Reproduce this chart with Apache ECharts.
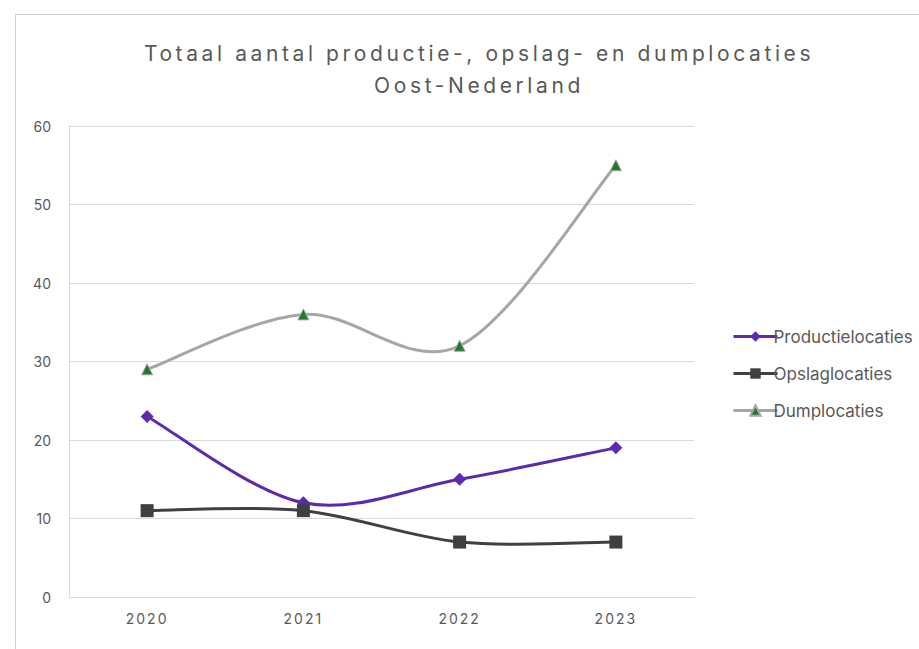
<!DOCTYPE html>
<html><head><meta charset="utf-8">
<script src="https://cdn.jsdelivr.net/npm/echarts@6/dist/echarts.min.js"></script>
<style>html,body{margin:0;padding:0;background:#fff}#c{width:919px;height:649px}</style>
</head><body><div id="c"></div>
<script>
const years = ['2020','2021','2022','2023'];
const productie = [23, 12, 15, 19];
const opslag = [11, 11, 7, 7];
const dump = [29, 36, 32, 55];
const yTicks = {min:0, max:60, interval:10};
const titleLines = ['Totaal aantal productie-, opslag- en dumplocaties','Oost-Nederland'];
const names = ['Productielocaties','Opslaglocaties','Dumplocaties'];
const colors = {line:['#5b2aae','#404040','#a6a6a6'], mark:['#5b2aae','#404040','#1e7b2c']};

const chart = echarts.init(document.getElementById('c'), null, {renderer:'svg'});
const ff = 'Inter, "Open Sans", sans-serif';

// Excel-like (Catmull-Rom) smoothed curve, one segment per data item
function curveSeries(arr, color){
  return {type:'custom', data:arr.map((v,i)=>[i,v]), z:1, silent:true,
    renderItem:function(params, api){
      const i = params.dataIndex;
      if(i >= arr.length-1) return null;
      const P = k => { const j=Math.max(0,Math.min(arr.length-1,k)); return api.coord([j, arr[j]]); };
      const p0=P(i-1), p1=P(i), p2=P(i+1), p3=P(i+2);
      const t=1/6;
      return {type:'bezierCurve', shape:{x1:p1[0],y1:p1[1],x2:p2[0],y2:p2[1],
        cpx1:p1[0]+(p2[0]-p0[0])*t, cpy1:p1[1]+(p2[1]-p0[1])*t,
        cpx2:p2[0]-(p3[0]-p1[0])*t, cpy2:p2[1]-(p3[1]-p1[1])*t},
        style:{stroke:color, lineWidth:3, fill:null, lineCap:'round'}};
    }};
}

chart.setOption({
  animation:false,
  backgroundColor:'#fff',
  graphic:[{type:'rect',shape:{x:15.5,y:14.5,width:1000,height:1000},style:{fill:'none',stroke:'#d0d0d0',lineWidth:1},silent:true}],
  title:{text:titleLines.join('\n'),left:474,top:32,textAlign:'center',
    textStyle:{fontFamily:ff,fontSize:21,fontWeight:'normal',color:'#595959',lineHeight:32}},
  grid:{left:69,right:225,top:126,bottom:52},
  legend:{orient:'vertical',left:727,top:323,itemWidth:44,itemHeight:13,itemGap:20,
    textStyle:{fontFamily:ff,fontSize:17,color:'#595959',padding:[0,0,0,-9]},
    data:names.map((n,k)=>({name:n,lineStyle:{width:3,color:colors.line[k],opacity:1}}))},
  xAxis:{type:'category',data:years,boundaryGap:true,
    axisLine:{lineStyle:{color:'#d9d9d9',width:1}},axisTick:{show:false},
    axisLabel:{fontFamily:ff,fontSize:14,color:'#595959',margin:14}},
  yAxis:{type:'value',min:yTicks.min,max:yTicks.max,interval:yTicks.interval,
    axisLine:{show:true,lineStyle:{color:'#d9d9d9'}},axisTick:{show:false},
    splitLine:{lineStyle:{color:'#d9d9d9',width:1}},
    axisLabel:{fontFamily:ff,fontSize:14,color:'#595959',margin:18}},
  series:[
    curveSeries(dump, colors.line[2]),
    curveSeries(productie, colors.line[0]),
    curveSeries(opslag, colors.line[1]),
    {name:names[0],type:'line',data:productie,symbol:'diamond',symbolSize:13,z:3,
      lineStyle:{color:colors.line[0],width:3,opacity:0},itemStyle:{color:colors.mark[0]}},
    {name:names[1],type:'line',data:opslag,symbol:'rect',symbolSize:13,z:3,
      lineStyle:{color:colors.line[1],width:3,opacity:0},itemStyle:{color:colors.mark[1]}},
    {name:names[2],type:'line',data:dump,symbol:'triangle',symbolSize:11,z:3,
      lineStyle:{color:colors.line[2],width:3,opacity:0},itemStyle:{color:colors.mark[2],borderColor:'#a6a6a6',borderWidth:1}}
  ]
});
function spacing(){
  document.querySelectorAll('#c svg text').forEach(t=>{
    const s=t.textContent;
    if(titleLines.includes(s)) t.setAttribute('letter-spacing','3.6');
    else if(years.includes(s)) t.setAttribute('letter-spacing','2');
  });
}
spacing();
chart.on('finished',spacing);
</script></body></html>
